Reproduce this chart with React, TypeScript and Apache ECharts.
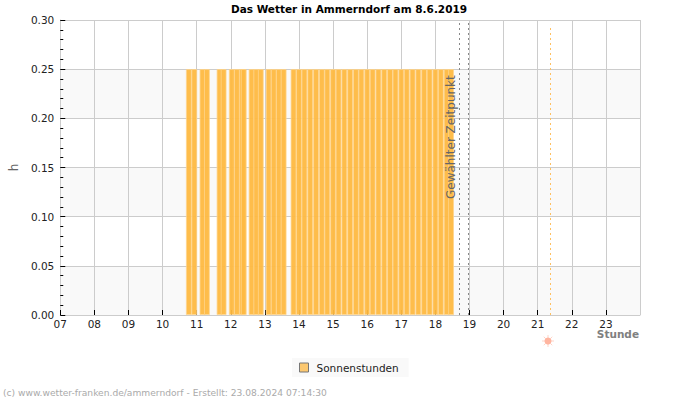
import React, { useEffect, useRef } from "react";
import * as echarts from "echarts";

const FONT = "'DejaVu Sans', sans-serif";

const titleText = "Das Wetter in Ammerndorf am 8.6.2019";
const seriesName = "Sonnenstunden";
const xAxisName = "Stunde";
const footerText = "(c) www.wetter-franken.de/ammerndorf - Erstellt: 23.08.2024 07:14:30";
const selectedLabel = "Gewählter Zeitpunkt";

// Decimal hours at which a sunshine interval was logged.
const sunTimes = [
  10.77, 10.93,
  11.17, 11.3,
  11.67, 11.79,
  12.03, 12.18, 12.33, 12.38,
  12.61, 12.75, 12.88,
  13.11, 13.26, 13.41, 13.55,
  13.84, 14.0, 14.16, 14.33, 14.5, 14.67, 14.83,
  15.0, 15.16, 15.33, 15.5, 15.67, 15.83,
  16.0, 16.16, 16.33, 16.5, 16.67, 16.83,
  17.0, 17.16, 17.33, 17.5, 17.67, 17.83,
  18.0, 18.16, 18.33, 18.46,
];
const sunHours = [
  0.25, 0.25,
  0.25, 0.25,
  0.25, 0.25,
  0.25, 0.25, 0.25, 0.25,
  0.25, 0.25, 0.25,
  0.25, 0.25, 0.25, 0.25,
  0.25, 0.25, 0.25, 0.25, 0.25, 0.25, 0.25,
  0.25, 0.25, 0.25, 0.25, 0.25, 0.25,
  0.25, 0.25, 0.25, 0.25, 0.25, 0.25,
  0.25, 0.25, 0.25, 0.25, 0.25, 0.25,
  0.25, 0.25, 0.25, 0.25,
];
const selectedTimes = [18.71, 18.96];
const sunsetTime = 21.37;

export default function App() {
  const ref = useRef<HTMLDivElement>(null);
  useEffect(() => {
    const chart = echarts.init(ref.current!, undefined, { renderer: "svg" });
    chart.setOption({
      animation: false,
      backgroundColor: "#fff",
      textStyle: { fontFamily: FONT },
      title: {
        text: titleText,
        left: 349,
        top: 3,
        padding: 0,
        textAlign: "center",
        textStyle: { fontSize: 10.5, fontWeight: "bold", color: "#000", fontFamily: FONT },
      },
      grid: { left: 60, right: 60, top: 20, bottom: 85 },
      legend: {
        left: 292,
        top: 358,
        padding: [4, 10, 4, 7],
        backgroundColor: "#f9f9f9",
        itemWidth: 9,
        itemHeight: 9,
        itemGap: 8,
        icon: "rect",
        itemStyle: { color: "#fcc870", borderColor: "#777", borderWidth: 1 },
        textStyle: { fontSize: 10.5, color: "#222", fontFamily: FONT, padding: [0, 0, 0, 3] },
        data: [{ name: seriesName }],
      },
      xAxis: {
        type: "value",
        min: 7,
        max: 24,
        interval: 1,
        axisLine: { show: true, lineStyle: { color: "#ccc", width: 1 } },
        axisTick: { show: true, inside: true, length: 5, lineStyle: { color: "#000", width: 1 } },
        axisLabel: {
          fontSize: 10.5,
          color: "#222",
          margin: 3,
          fontFamily: FONT,
          showMaxLabel: false,
          formatter: (v: number) => String(v).padStart(2, "0"),
        },
        splitLine: { show: true, lineStyle: { color: "#ccc", width: 1 } },
      },
      yAxis: {
        type: "value",
        min: 0,
        max: 0.3,
        interval: 0.05,
        name: "h",
        nameLocation: "middle",
        nameGap: 39,
        nameTextStyle: { fontSize: 12, color: "#666", fontFamily: FONT },
        axisLine: { show: true, lineStyle: { color: "#ccc", width: 1 } },
        axisTick: { show: true, inside: true, length: 5, lineStyle: { color: "#000", width: 1 } },
        minorTick: { show: true, splitNumber: 5, length: 3, lineStyle: { color: "#000", width: 1 } },
        axisLabel: {
          fontSize: 10.5,
          color: "#222",
          margin: 6,
          padding: [0, 0, 2, 0],
          fontFamily: FONT,
          formatter: (v: number) => v.toFixed(2),
        },
        splitLine: { show: true, lineStyle: { color: "#ccc", width: 1 } },
        splitArea: { show: true, areaStyle: { color: ["#f9f9f9", "#ffffff"] } },
      },
      series: [
        {
          name: seriesName,
          type: "bar",
          barWidth: 5.7,
          barGap: "-100%",
          data: sunTimes.map((t, i) => [t, sunHours[i]]),
          itemStyle: {
            color: "rgba(254,185,65,0.95)",
            borderColor: "rgba(255,212,140,0.95)",
            borderWidth: 0.8,
          },
          markLine: {
            silent: true,
            symbol: "none",
            label: { show: false },
            lineStyle: { color: "#888", type: [2, 3], width: 1 },
            data: [
              ...selectedTimes.map((t) => ({ xAxis: t })),
              [
                {
                  coord: [sunsetTime, 0],
                  lineStyle: { color: "#ffc060", type: [2, 3], width: 1 },
                },
                { coord: [sunsetTime, 0.295] },
              ],
            ],
          },
        },
      ],
      graphic: [
        {
          type: "text",
          x: 451,
          y: 199,
          z: 10,
          rotation: Math.PI / 2,
          style: {
            text: selectedLabel,
            fontSize: 12,
            fontFamily: FONT,
            fill: "#666",
            align: "left",
            verticalAlign: "middle",
          },
        },
        {
          type: "text",
          x: 639,
          y: 334,
          style: {
            text: xAxisName,
            fontSize: 10.5,
            fontWeight: "bold",
            fontFamily: FONT,
            fill: "#808080",
            align: "right",
            verticalAlign: "middle",
          },
        },
        {
          type: "text",
          x: 3,
          y: 393,
          style: {
            text: footerText,
            fontSize: 9.15,
            fontFamily: FONT,
            fill: "#aaa",
            verticalAlign: "middle",
          },
        },
        // Sunset marker below the axis.
        {
          type: "group",
          x: 548,
          y: 341,
          children: [
            ...[0, 45, 90, 135].map((deg) => {
              const a = (deg * Math.PI) / 180;
              const r = 6;
              return {
                type: "line",
                shape: {
                  x1: -r * Math.cos(a),
                  y1: -r * Math.sin(a),
                  x2: r * Math.cos(a),
                  y2: r * Math.sin(a),
                },
                style: { stroke: "#ffd5c8", lineWidth: 1 },
              };
            }),
            { type: "circle", shape: { r: 3.5 }, style: { fill: "#ffb5a0" } },
          ],
        },
      ],
    });
    return () => chart.dispose();
  }, []);
  return (
    <div
      ref={ref}
      style={{ position: "fixed", left: 0, top: 0, width: 700, height: 400 }}
    />
  );
}
